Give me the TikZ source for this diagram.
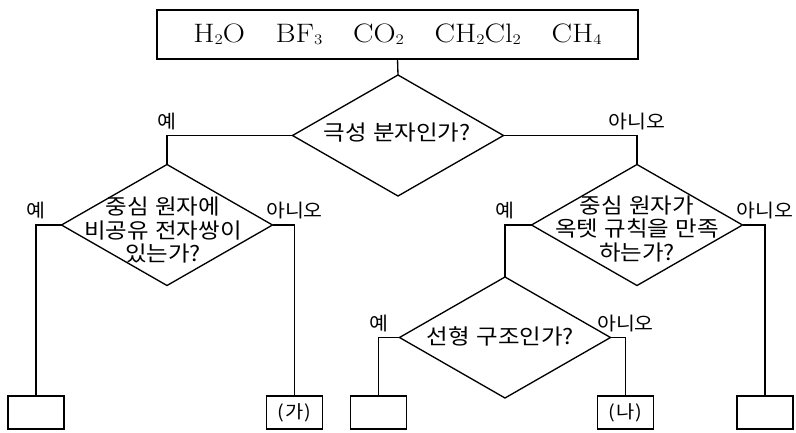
\documentclass[tikz,border=0pt]{standalone}
\usepackage{fontspec}
\newfontfamily\kr[FakeStretch=1.1]{Noto Sans CJK KR}
\usetikzlibrary{shapes.geometric}
\newcommand{\chsub}[1]{\raisebox{-1.2pt}{\fontsize{11}{11}\selectfont #1}}
\newcommand{\ks}{\hspace{0.3em}}
\newcommand{\qfont}{\kr\fontsize{16}{17.3}\selectfont\lineskiplimit=-50pt\relax}
\begin{document}
\begin{tikzpicture}[x=0.75pt,y=-0.75pt,line width=1pt,
  dia/.style={draw,diamond,minimum width=158.25pt,minimum height=90.75pt,inner sep=0pt,outer sep=0pt},
  qtext/.style={font=\qfont,align=center,inner sep=0pt},
  res/.style={draw,minimum width=42pt,minimum height=24.75pt,inner sep=0pt,outer sep=0pt,font=\kr\fontsize{13.5}{14}\selectfont},
  lab/.style={font=\kr\fontsize{14}{14}\selectfont,inner sep=0pt,above=4pt},
  topbox/.style={draw,minimum width=360.75pt,minimum height=36.75pt,inner sep=0pt,outer sep=0pt,font=\fontsize{20}{20}\selectfont}]
\useasboundingbox (0,0) rectangle (796,432);
\node[topbox] (top) at (397.5,34.5) {\scalebox{1.15}[1]{H\chsub{2}O\hspace{20pt}BF\chsub{3}\hspace{20pt}CO\chsub{2}\hspace{20pt}CH\chsub{2}Cl\chsub{2}\hspace{20pt}CH\chsub{4}}};
\node[dia] (d1) at (398,135.5) {};
\node[qtext] (q1) at (397,133) {극성\ks 분자인가?};
\node[dia] (d2) at (167,225) {};
\node[qtext] (q2) at (163,230) {중심\ks 원자에\\비공유\ks 전자쌍이\\있는가?};
\node[dia] (d3) at (637,225) {};
\node[qtext] (q3) at (637,229) {중심\ks 원자가\\옥텟\ks 규칙을\ks 만족\\하는가?};
\node[dia] (d4) at (505,337.5) {};
\node[qtext] (q4) at (500.5,336) {선형\ks 구조인가?};
\node[res] (b1) at (36,412.5) {};
\node[res] (b2) at (294.5,412.5) {(\hspace{1pt}가\hspace{1pt})};
\node[res] (b3) at (378.5,412.5) {};
\node[res] (b4) at (625.5,412.5) {(\hspace{1pt}나\hspace{1pt})};
\node[res] (b5) at (765,412.5) {};
\draw (top.south) -- (d1.north);
\draw (d1.west) -| node[lab,pos=0.5]{예} (d2.north);
\draw (d1.east) -| node[lab,pos=0.5]{아니오} (d3.north);
\draw (d2.west) -| node[lab,pos=0.5]{예} (b1.north);
\draw (d2.east) -| node[lab,pos=0.5]{아니오} (b2.north);
\draw (d3.west) -| node[lab,pos=0.5]{예} (d4.north);
\draw (d3.east) -| node[lab,pos=0.5]{아니오} (b5.north);
\draw (d4.west) -| node[lab,pos=0.5]{예} (b3.north);
\draw (d4.east) -| node[lab,pos=0.5]{아니오} (b4.north);
\end{tikzpicture}
\end{document}
